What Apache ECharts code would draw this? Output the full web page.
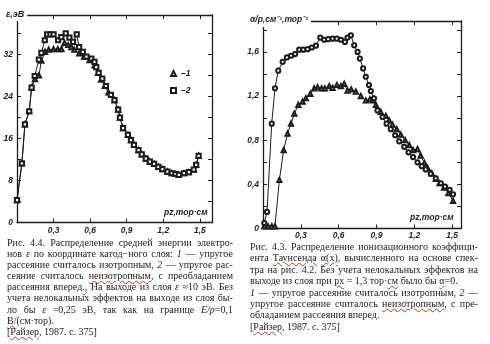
<!DOCTYPE html>
<html><head><meta charset="utf-8">
<script src="https://cdn.jsdelivr.net/npm/echarts@6/dist/echarts.min.js"></script>
<style>
body{margin:0;background:#fff;}
#c{position:absolute;left:0;top:0;width:490px;height:344px;}
.cap{position:absolute;font-family:"Liberation Serif",serif;font-size:10px;color:#222;}
.cap .j{display:flex;justify-content:space-between;white-space:nowrap;}
.cap .l{white-space:nowrap;}
.cap u{text-decoration:underline wavy #b33;text-decoration-thickness:1px;text-underline-offset:1px;}
</style></head><body>
<div id="c"></div>
<div class="cap" id="capL" style="left:7px;top:237px;width:226px;line-height:11.1px;"></div>
<div class="cap" id="capR" style="left:250px;top:241px;width:228px;line-height:11.4px;"></div>
<script>
// ---- Left chart (Рис. 4.4): mean energy ε, эВ vs pz, тор·см ----
const epsX2 = [0,0.04,0.065,0.1,0.12,0.145,0.18,0.2,0.228,0.247,0.274,0.3,0.337,0.364,0.4,0.43,0.46,0.49,0.51,0.54,0.57,0.61,0.636,0.65,0.67,0.70,0.73,0.77,0.8,0.83,0.845,0.87,0.91,0.935,0.96,0.997,1.024,1.057,1.09,1.125,1.16,1.193,1.234,1.27,1.30,1.328,1.37,1.41,1.45,1.47,1.49];
const epsY2 = [4.3,11.3,18.7,21.2,25.7,27.9,31,32.3,34.7,35.8,35.8,35.8,34.7,35.3,36,35.2,34.4,35.8,33.4,32.5,31.6,31.2,30.6,29.6,28.5,27.4,26,24.3,23.3,21.5,20,18,16.7,15.7,14.8,13.8,13,12.2,11.6,11.2,10.6,10.2,9.7,9.4,9.26,9.1,9.4,9.6,10.1,11,12.7];
const epsX1head = [0,0.04,0.065,0.1,0.12,0.147,0.18,0.2,0.23,0.26,0.3,0.335,0.365,0.39,0.42,0.446,0.47,0.51,0.55,0.595,0.636,0.665,0.69,0.72,0.75,0.8];
const epsY1head = [4.3,11.3,18.7,21.2,25.7,27.3,28,30.8,32.5,32.9,33,33,33,34.2,33.8,33.4,32.9,32.2,31.6,30.9,29.9,28.5,27.2,26,24.8,23.3];
const epsX1 = epsX1head.concat(epsX2.slice(29));
const epsY1 = epsY1head.concat(epsY2.slice(29));

// ---- Right chart (Рис. 4.3): α/p vs pz ----
const alX2 = [0.01,0.032,0.069,0.095,0.121,0.156,0.19,0.222,0.255,0.287,0.32,0.354,0.387,0.42,0.454,0.485,0.517,0.552,0.585,0.618,0.65,0.67,0.697,0.723,0.75,0.768,0.794,0.815,0.84,0.855,0.88,0.908,0.948,0.98,1.013,1.048,1.08,1.12,1.154,1.19,1.225,1.259,1.29,1.33,1.37,1.41,1.443,1.48,1.507];
const alY2 = [0.05,0.15,0.95,1.27,1.43,1.51,1.55,1.565,1.58,1.62,1.62,1.625,1.64,1.656,1.73,1.71,1.715,1.72,1.72,1.71,1.69,1.73,1.75,1.66,1.6,1.54,1.45,1.375,1.30,1.245,1.18,1.07,1.01,0.95,0.90,0.845,0.79,0.74,0.69,0.647,0.60,0.565,0.535,0.495,0.455,0.41,0.38,0.35,0.31];
const alX1 = [0.01,0.04,0.07,0.095,0.13,0.164,0.195,0.222,0.248,0.28,0.314,0.34,0.375,0.406,0.433,0.465,0.49,0.525,0.552,0.586,0.618,0.644,0.67,0.70,0.736,0.776,0.815,0.847,0.873,0.895,0.934,0.974,1.0,1.027,1.06,1.093,1.127,1.16,1.19,1.225,1.25,1.28,1.304,1.338,1.37,1.40,1.435,1.47,1.507];
const alY1 = [0.02,0.02,0.02,0.02,0.44,0.71,0.86,0.95,1.04,1.12,1.15,1.18,1.22,1.27,1.28,1.27,1.27,1.29,1.275,1.30,1.29,1.31,1.25,1.26,1.24,1.20,1.16,1.17,1.16,1.12,1.056,1.02,0.98,0.94,0.90,0.85,0.80,0.755,0.71,0.72,0.66,0.595,0.55,0.50,0.45,0.41,0.37,0.32,0.25];

// tick labels
const xTickLabels = ['0,3','0,6','0,9','1,2','1,5'];
const epsTickLabels = ['0','8','16','24','32'];
const alTickLabels = ['0','0,4','0,8','1,2','1,6'];
const legendNames = ['1','2'];

const INK = '#1c1c1c';
const lblFont = {fontFamily:'Liberation Sans', fontStyle:'italic', fontWeight:'bold', fontSize:8.5, color:INK};
const zip = (xs, ys) => xs.map((x,i)=>[x, ys[i]]);
const fmtIn = list => v => { const s = (Math.round(v*100)/100).toString().replace('.', ','); return list.indexOf(s) >= 0 ? s : ''; };

function xAx(grid, pos, max, labels){
  return {type:'value', gridIndex:grid, position:pos, min:0, max:max, interval:0.3,
    axisLine:{show:true, onZero:false, lineStyle:{color:INK, width:1.3}},
    axisTick:{show:true, inside:true, length:4, lineStyle:{color:INK, width:1}},
    axisLabel:{show:labels, margin:3, formatter: fmtIn(xTickLabels), ...lblFont},
    splitLine:{show:false}};
}
function yAx(grid, pos, max, interval, labels, list){
  return {type:'value', gridIndex:grid, position:pos, min:0, max:max, interval:interval,
    axisLine:{show:true, onZero:false, lineStyle:{color:INK, width:1.3}},
    axisTick:{show:true, inside:true, length:4, lineStyle:{color:INK, width:1}},
    axisLabel:{show:labels, margin:4, formatter: list ? fmtIn(list) : '', ...lblFont},
    splitLine:{show:false}};
}
function ser(name, xa, ya, xs, ys, sym){
  return {name:name, type:'line', xAxisIndex:xa, yAxisIndex:ya, data:zip(xs, ys),
    symbol:sym, symbolSize:4.2, showSymbol:true, animation:false,
    lineStyle:{color:INK, width:1}, itemStyle:{color:INK, borderColor:INK, borderWidth:0.7}};
}

const chart = echarts.init(document.getElementById('c'));
chart.setOption({
  backgroundColor:'#fff',
  animation:false,
  grid:[
    {left:17, top:15, width:195, height:207.7},
    {left:263, top:21, width:198, height:207.5}
  ],
  xAxis:[ xAx(0,'bottom',1.6,true), xAx(0,'top',1.6,false), xAx(1,'bottom',1.57,true), xAx(1,'top',1.57,false) ],
  yAxis:[ yAx(0,'left',39.5,4,true,epsTickLabels), yAx(0,'right',39.5,4,false),
          yAx(1,'left',1.88,0.2,true,alTickLabels), yAx(1,'right',1.88,0.2,false) ],
  legend:{orient:'vertical', left:165, top:64, itemGap:8, itemWidth:5, itemHeight:5,
    data:[{name:legendNames[0], icon:'emptyTriangle'},{name:legendNames[1], icon:'emptyRect'}],
    formatter: n => '–' + n, textStyle:{...lblFont, fontSize:8.5}},
  series:[
    ser(legendNames[0],0,0,epsX1,epsY1,'emptyTriangle'),
    ser(legendNames[1],0,0,epsX2,epsY2,'emptyRect'),
    ser('α 1',2,2,alX1,alY1,'emptyTriangle'),
    ser('α 2',2,2,alX2,alY2,'emptyCircle')
  ],
  graphic:[
    {type:'text', left:5, top:9, z:100, style:{text:'ε,эВ', fill:INK, font:'italic bold 9px "Liberation Sans"', backgroundColor:'#fff', padding:[1,3,2,1]}},
    {type:'text', left:249, top:14, z:100, style:{text:'α/p,см⁻¹,тор⁻¹', fill:INK, font:'italic bold 8.5px "Liberation Sans"', backgroundColor:'#fff', padding:[1,3,3,1]}},
    {type:'text', left:164, top:208, z:100, style:{text:'pz,тор·см', fill:INK, font:'italic bold 8.5px "Liberation Sans"'}},
    {type:'text', left:410, top:213, z:100, style:{text:'pz,тор·см', fill:INK, font:'italic bold 8.5px "Liberation Sans"'}}
  ]
});

// ---- captions ----
const capLeft = [
  ['j','Рис. 4.4. Распределение средней энергии электро-'],
  ['j','нов <i>ε</i> по координате катод−ного слоя: <i>1</i> — упругое'],
  ['j','рассеяние считалось изотропным, <i>2</i> — упругое рас-'],
  ['j','сеяние считалось <u>неизотропным</u>, с преобладанием'],
  ['j','рассеяния вперед<u>.,</u> На выходе из слоя <i>ε</i> ≈10 эВ. Без'],
  ['j','учета нелокальных эффектов на выходе из слоя бы-'],
  ['j','ло бы <i>ε</i> =0,25 эВ, так как на границе <i>E/p</i>=0,1'],
  ['l','<u>В/</u>(см·тор).'],
  ['l','[<u>Райзер</u>, 1987. с. 375]']
];
const capRight = [
  ['j','Рис. 4.3. Распределение ионизационного коэффици-'],
  ['j','ента <u>Таунсенда</u> <u>α(x)</u>, вычисленного на основе спек-'],
  ['j','тра на рис. 4.2. Без учета нелокальных эффектов на'],
  ['l','выходе из слоя при <u>px</u> = 1,3 тор·<u>см</u> было бы <u>α</u>=0.'],
  ['j','<i>1</i> — упругое рассеяние считалось изотропным, <i>2</i> —'],
  ['j','упругое рассеяние считалось <u>неизотропным</u>, с пре-'],
  ['l','обладанием рассеяния вперед.'],
  ['l','[<u>Райзер</u>, 1987. с. 375]']
];
function fill(id, lines){
  const box = document.getElementById(id);
  lines.forEach(([k, t]) => {
    const d = document.createElement('div');
    d.className = k;
    if (k === 'j') d.innerHTML = t.split(' ').map(w => '<span>' + w + '</span>').join('');
    else d.innerHTML = t;
    box.appendChild(d);
  });
}
fill('capL', capLeft);
fill('capR', capRight);
</script>
</body></html>
